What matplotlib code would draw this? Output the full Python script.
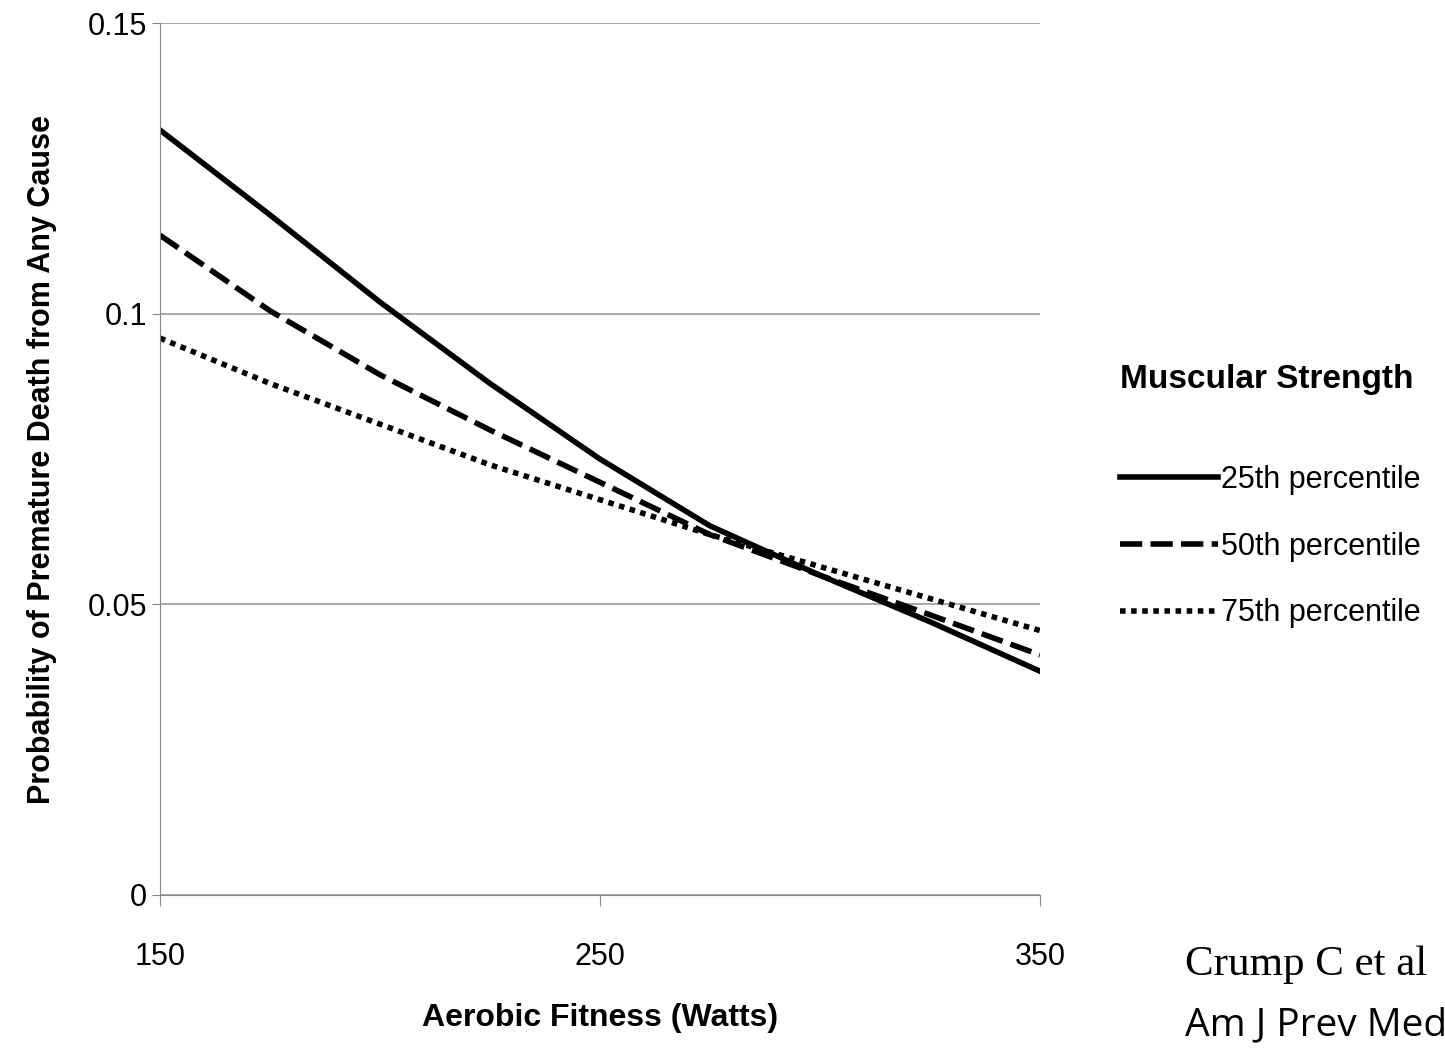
import matplotlib.pyplot as plt

plt.rcParams['font.family'] = ['Liberation Sans', 'DejaVu Sans']

watts = [150, 175, 200, 225, 250, 275, 300, 325, 350]
p25 = [0.1316, 0.1170, 0.1020, 0.0880, 0.0750, 0.0635, 0.0550, 0.0470, 0.0385]
p50 = [0.1135, 0.1005, 0.0895, 0.0800, 0.0710, 0.0620, 0.0550, 0.0482, 0.0413]
p75 = [0.0958, 0.0880, 0.0810, 0.0740, 0.0680, 0.0620, 0.0565, 0.0510, 0.0455]

fig = plt.figure(figsize=(14.45, 10.48), dpi=100)
ax = fig.add_axes([0.1107, 0.146, 0.609, 0.832])

ax.plot(watts, p25, color='black', lw=4, ls='-', label='25th percentile')
ax.plot(watts, p50, color='black', lw=4, ls=(0, (4, 1.5)), label='50th percentile')
ax.plot(watts, p75, color='black', lw=4, ls=(0, (1, 1)), label='75th percentile')

ax.set_xlim(150, 350)
ax.set_ylim(0, 0.15)
ax.set_xticks([150, 250, 350])
ax.set_yticks([0, 0.05, 0.1, 0.15])
ax.set_yticklabels(['0', '0.05', '0.1', '0.15'])
ax.grid(axis='y', color='#999999', lw=1.2)
for s in ['top', 'right']:
    ax.spines[s].set_visible(False)
ax.spines['left'].set_color('#888888')
ax.spines['bottom'].set_color('#888888')
ax.tick_params(axis='x', direction='out', length=8, pad=26, labelsize=22, color='#888888')
ax.tick_params(axis='y', direction='out', length=6, labelsize=22, color='#888888')
ax.set_xlabel('Aerobic Fitness (Watts)', fontsize=23, fontweight='bold', labelpad=22)
ax.set_ylabel('Probability of Premature Death from Any Cause', fontsize=22, fontweight='bold', labelpad=22)

leg = ax.legend(loc='upper left', bbox_to_anchor=(1.06, 0.64), frameon=False,
                title='Muscular Strength', fontsize=22, handlelength=3.2, handletextpad=0.1,
                labelspacing=1.2)
leg.get_title().set_fontweight('bold')
leg.get_title().set_fontsize(24)
leg._legend_box.align = 'left'
leg._legend_box.sep = 50

fig.text(1185 / 1445, 0.07, 'Crump C et al', fontsize=31, family='Liberation Serif')
fig.text(1185 / 1445, 0.012, 'Am J Prev Med', fontsize=28, family='Open Sans')

fig.savefig('out.png', dpi=100)
